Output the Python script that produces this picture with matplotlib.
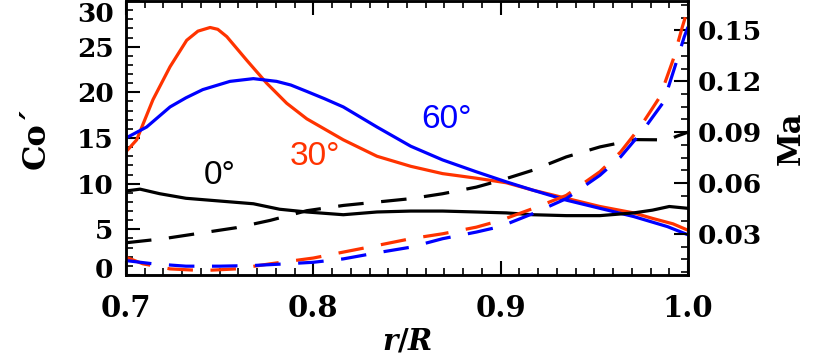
"""Co' and Ma profiles versus r/R for latitudes 0, 30 and 60 degrees."""

import matplotlib

matplotlib.use("Agg")
import matplotlib.pyplot as plt
from matplotlib.ticker import MultipleLocator
from matplotlib.transforms import ScaledTranslation


RED = "#FF3300"
BLUE = "#0000FF"
BLACK = "#000000"

# Co' (left axis, solid lines)
R_CO_30 = [0.700, 0.7057, 0.7144, 0.7235, 0.7324, 0.7384, 0.7449, 0.749, 0.7538, 0.7645,
           0.7751, 0.7858, 0.7965, 0.816, 0.834, 0.852, 0.869, 0.887, 0.903, 0.917,
           0.935, 0.953, 0.971, 0.981, 0.992, 1.000]
CO_30 = [13.5, 14.8, 19.2, 22.8, 25.7, 26.7, 27.1, 26.9, 26.1, 23.5,
         21.0, 18.8, 17.1, 14.8, 13.0, 11.9, 11.1, 10.6, 10.1, 9.3,
         8.4, 7.5, 6.8, 6.2, 5.6, 4.9]

R_CO_60 = [0.700, 0.711, 0.7235, 0.732, 0.741, 0.7555, 0.768, 0.7804, 0.788, 0.7965,
           0.806, 0.816, 0.834, 0.852, 0.869, 0.887, 0.903, 0.917, 0.935, 0.953,
           0.971, 0.989, 1.000]
CO_60 = [15.0, 16.2, 18.4, 19.4, 20.3, 21.2, 21.5, 21.2, 20.8, 20.1,
         19.3, 18.4, 16.2, 14.1, 12.6, 11.3, 10.2, 9.3, 8.2, 7.3,
         6.4, 5.3, 4.4]

R_CO_0 = [0.700, 0.7075, 0.718, 0.732, 0.750, 0.768, 0.782, 0.7965, 0.816, 0.834,
          0.852, 0.869, 0.887, 0.903, 0.917, 0.935, 0.953, 0.971, 0.981, 0.990, 1.000]
CO_0 = [9.2, 9.4, 8.9, 8.4, 8.1, 7.8, 7.2, 6.9, 6.6, 6.9,
        7.0, 7.0, 6.9, 6.8, 6.6, 6.5, 6.5, 6.8, 7.1, 7.5, 7.3]

# Ma (right axis, dashed lines)
R_MA_0 = [0.700, 0.720, 0.741, 0.759, 0.777, 0.7965, 0.816, 0.834, 0.852, 0.869,
          0.887, 0.900, 0.917, 0.935, 0.953, 0.972, 0.983, 0.989, 0.994, 1.000]
MA_0 = [0.0248, 0.0272, 0.0307, 0.0337, 0.0380, 0.0437, 0.0468, 0.0488, 0.0508, 0.0537,
        0.0576, 0.0616, 0.0675, 0.0754, 0.0813, 0.0856, 0.0855, 0.0852, 0.0876, 0.0900]

R_MA_30 = [0.700, 0.709, 0.7235, 0.741, 0.759, 0.777, 0.800, 0.816, 0.834, 0.852,
           0.869, 0.887, 0.900, 0.917, 0.935, 0.953, 0.964, 0.9745, 0.985, 0.992,
           0.997, 1.000]
MA_30 = [0.0163, 0.0124, 0.0094, 0.0084, 0.0094, 0.0124, 0.0158, 0.0193, 0.0232, 0.0272,
         0.0301, 0.0340, 0.0380, 0.0449, 0.0527, 0.0667, 0.0783, 0.0931, 0.1108, 0.1325,
         0.1521, 0.1630]

R_MA_60 = [0.700, 0.7144, 0.732, 0.750, 0.768, 0.7858, 0.800, 0.816, 0.834, 0.852,
           0.869, 0.887, 0.900, 0.917, 0.935, 0.953, 0.964, 0.976, 0.987, 0.993,
           0.998, 1.000]
MA_60 = [0.0143, 0.0124, 0.0110, 0.0110, 0.0114, 0.0124, 0.0133, 0.0153, 0.0189, 0.0222,
         0.0272, 0.0311, 0.0344, 0.0419, 0.0508, 0.0646, 0.0754, 0.0911, 0.1078, 0.1285,
         0.1462, 0.1520]

X_TICKS = [0.7, 0.8, 0.9, 1.0]
X_TICK_LABELS = ["0.7", "0.8", "0.9", "1.0"]
CO_TICKS = [0, 5, 10, 15, 20, 25, 30]
MA_TICKS = [0.03, 0.06, 0.09, 0.12, 0.15]
MA_TICK_LABELS = ["0.03", "0.06", "0.09", "0.12", "0.15"]

CURVE_LABELS = [("0°", 0.750, 10.9, BLACK), ("30°", 0.8008, 13.0, RED), ("60°", 0.8713, 17.0, BLUE)]

DASHES = (8.0, 5.5)
LW = 2.3
SERIF = "DejaVu Serif"


def style_axis(axis):
    """Inward IDL-like ticks."""

    axis.tick_params(axis="both", which="major", direction="in", length=10, width=1.5)
    axis.tick_params(axis="both", which="minor", direction="in", length=5, width=1.2)
    for spine in axis.spines.values():
        spine.set_linewidth(1.8)


def shift_label(fig, label, dy_px):
    """Nudge one tick label vertically (IDL keeps end labels inside the frame)."""

    label.set_transform(label.get_transform() + ScaledTranslation(0, dy_px / 100, fig.dpi_scale_trans))


def main():
    plt.rcParams["font.family"] = SERIF
    plt.rcParams["font.weight"] = "bold"
    plt.rcParams["mathtext.fontset"] = "dejavuserif"

    fig = plt.figure(figsize=(8.14, 3.61), dpi=100)
    ax = fig.add_axes([126 / 814, 1 - 275 / 361, 562 / 814, 274 / 361])

    ax.plot(R_CO_30, CO_30, color=RED, lw=LW)
    ax.plot(R_CO_60, CO_60, color=BLUE, lw=LW)
    ax.plot(R_CO_0, CO_0, color=BLACK, lw=LW)

    ax.set_xlim(0.7, 1.0)
    ax.set_ylim(0, 30)
    ax.set_xticks(X_TICKS)
    ax.set_xticklabels(X_TICK_LABELS, fontsize=21, fontweight="bold")
    ax.xaxis.set_minor_locator(MultipleLocator(0.01))
    ax.set_yticks(CO_TICKS)
    ax.set_yticklabels([str(v) for v in CO_TICKS], fontsize=19, fontweight="bold")
    ax.yaxis.set_minor_locator(MultipleLocator(1))
    style_axis(ax)
    ax.tick_params(axis="x", which="both", top=True, pad=14)
    ax.tick_params(axis="y", which="major", pad=9)
    ax.set_xlabel("$r/R$", fontsize=21, labelpad=3)
    ax.set_ylabel("Co´", fontsize=23, fontweight="bold", labelpad=18)

    ylabels = ax.get_yticklabels()
    shift_label(fig, ylabels[0], 7)
    shift_label(fig, ylabels[-1], -11)

    for text, x, y, color in CURVE_LABELS:
        ax.text(x, y, text, color=color, fontsize=24, family="Liberation Sans",
                fontweight="normal", ha="center", va="center")

    ax2 = ax.twinx()
    ax2.plot(R_MA_0, MA_0, color=BLACK, lw=LW, dashes=DASHES)
    ax2.plot(R_MA_30, MA_30, color=RED, lw=LW, dashes=DASHES)
    ax2.plot(R_MA_60, MA_60, color=BLUE, lw=LW, dashes=DASHES)
    ax2.set_xlim(0.7, 1.0)
    ax2.set_ylim(0.0058, 0.1673)
    ax2.set_yticks(MA_TICKS)
    ax2.set_yticklabels(MA_TICK_LABELS, fontsize=19, fontweight="bold")
    ax2.yaxis.set_minor_locator(MultipleLocator(0.0075))
    style_axis(ax2)
    ax2.tick_params(axis="y", which="major", pad=7)
    ax2.set_ylabel("Ma", fontsize=22, fontweight="bold", labelpad=10)

    fig.savefig("out.png", dpi=100)
    plt.close(fig)


if __name__ == "__main__":
    main()
